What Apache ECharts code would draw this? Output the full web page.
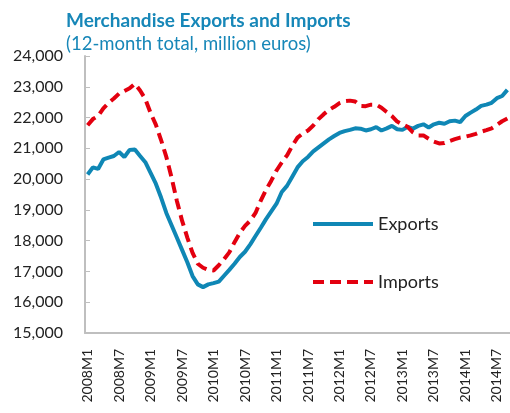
<!DOCTYPE html>
<html lang="en">
<head>
    <meta charset="UTF-8">
    <title>Merchandise Exports and Imports</title>
    <script type="text/javascript" src="https://cdn.jsdelivr.net/npm/echarts@6/dist/echarts.min.js"></script>
    <style>
        html, body { margin: 0; padding: 0; background: #fff; }
    </style>
</head>
<body>

<div id="main" style="width: 510px;height:413px;"></div>

<script>
    // months 2008M1 .. 2014M9
    var months = [];
    for (var y = 2008; y <= 2014; y++) {
        for (var m = 1; m <= 12; m++) {
            if (y == 2014 && m > 9) break;
            months.push(y + 'M' + m);
        }
    }

    // 12-month total, million euros
    var exportsData = [
        20150, 20380, 20330, 20640, 20700, 20750, 20880, 20720, 20950, 20960, 20750, 20550,
        20200, 19850, 19400, 18900, 18500, 18100, 17700, 17300, 16850, 16580, 16490, 16580,
        16620, 16670, 16860, 17050, 17250, 17470, 17640, 17880, 18150, 18420, 18700, 18950,
        19200, 19580, 19780, 20080, 20380, 20580, 20720, 20900, 21030, 21160, 21290, 21400,
        21500, 21560, 21600, 21650, 21640, 21580, 21620, 21690, 21580, 21650, 21730, 21620,
        21600, 21700, 21640, 21730, 21780, 21680, 21780, 21830, 21800, 21880, 21900, 21850,
        22050, 22160, 22260, 22380, 22420, 22480, 22630, 22700, 22900
    ];
    var importsData = [
        21750, 21950, 22050, 22300, 22480, 22620, 22780, 22860, 22950, 23100, 22880, 22600,
        22150, 21770, 21270, 20720, 20050, 19300, 18650, 18100, 17600, 17250, 17120, 17050,
        17030, 17200, 17400, 17620, 17950, 18250, 18480, 18650, 18900, 19300, 19650, 19950,
        20280, 20540, 20770, 21080, 21350, 21480, 21580, 21740, 21950, 22110, 22250, 22350,
        22470, 22530, 22550, 22520, 22380, 22370, 22420, 22420, 22320, 22180, 22050, 21870,
        21780, 21700, 21520, 21420, 21420, 21310, 21220, 21160, 21170, 21240, 21300, 21350,
        21380, 21420, 21470, 21540, 21590, 21650, 21760, 21880, 21970
    ];
    var seriesNames = ['Exports', 'Imports'];

    var blue = '#0f87b5';
    var red = '#e3000f';
    var axisGray = '#bfbfbf';
    var font = 'Lato';

    var myChart = echarts.init(document.getElementById('main'));
    myChart.setOption({
        animation: false,
        title: {
            text: 'Merchandise Exports and Imports',
            subtext: '(12-month total, million euros)',
            left: 61,
            top: 6,
            itemGap: 5,
            textStyle: { fontFamily: font, fontSize: 19, fontWeight: 'bold', color: '#1787b8' },
            subtextStyle: { fontFamily: font, fontSize: 18.5, color: '#1787b8' }
        },
        legend: {
            orient: 'vertical',
            left: 306,
            top: 210,
            itemWidth: 60,
            itemHeight: 10,
            itemGap: 40,
            data: seriesNames,
            itemStyle: { opacity: 0 },
            lineStyle: { width: 4 },
            textStyle: { fontFamily: font, fontSize: 18, color: '#222' }
        },
        grid: { left: 85, top: 56, right: -2, bottom: 80, containLabel: false },
        xAxis: {
            type: 'category',
            data: months,
            boundaryGap: true,
            axisLine: { lineStyle: { color: axisGray, width: 2 } },
            axisTick: { inside: true, interval: 5, length: 5, lineStyle: { color: axisGray, width: 1 } },
            axisLabel: { interval: 5, rotate: 90, margin: 16, fontFamily: font, fontSize: 14, color: '#222' },
            splitLine: { show: false }
        },
        yAxis: {
            type: 'value',
            min: 15000,
            max: 24000,
            interval: 1000,
            axisLine: { show: true, lineStyle: { color: axisGray, width: 2 } },
            axisTick: { show: true, inside: true, length: 5, lineStyle: { color: axisGray, width: 1 } },
            axisLabel: {
                margin: 22, fontFamily: font, fontSize: 16, color: '#222',
                formatter: function (v) { return v.toLocaleString('en-US'); }
            },
            splitLine: { show: false }
        },
        series: [{
            name: seriesNames[0],
            type: 'line',
            data: exportsData,
            symbol: 'none',
            lineStyle: { color: blue, width: 4 },
            itemStyle: { color: blue }
        }, {
            name: seriesNames[1],
            type: 'line',
            data: importsData,
            symbol: 'none',
            lineStyle: { color: red, width: 4, type: [11, 6] },
            itemStyle: { color: red }
        }]
    });
</script>

</body>
</html>
